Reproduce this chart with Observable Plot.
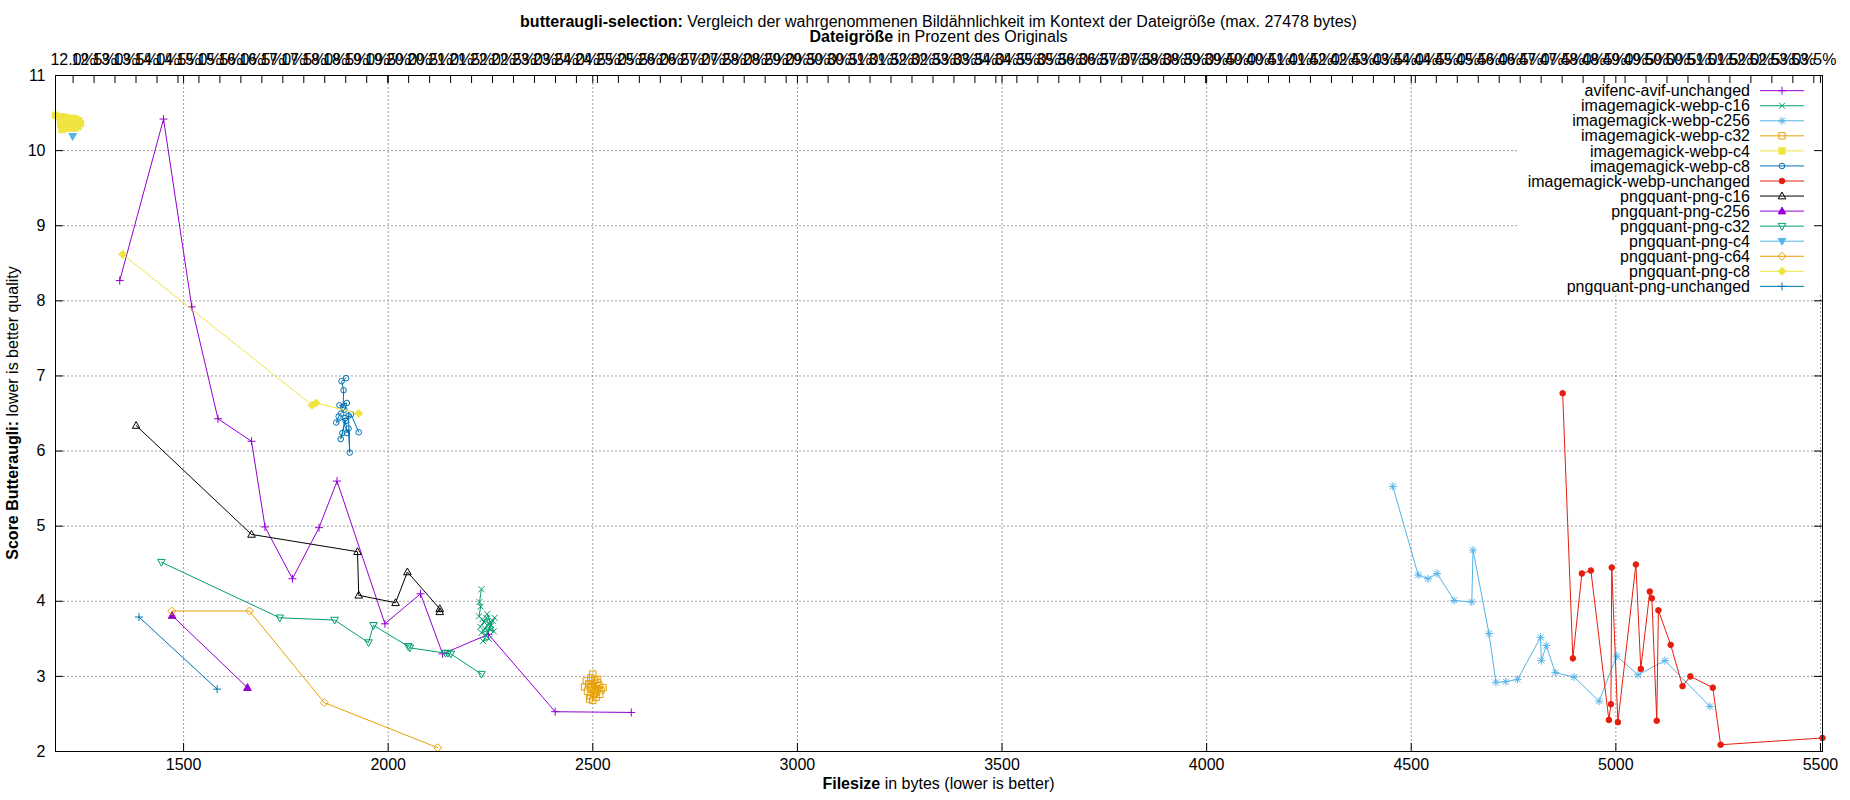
<!DOCTYPE html>
<html><head><meta charset="utf-8">
<script src="https://cdn.jsdelivr.net/npm/d3@7"></script>
<script src="https://cdn.jsdelivr.net/npm/@observablehq/plot@0.6"></script>
<style>
body{margin:0;background:#fff;}
#chart svg{font-family:"Liberation Sans",Arial,sans-serif;}
</style>
</head><body><div id="chart"></div>
<script>
// ---------- tick labels ----------
const xTicks = [1500, 2000, 2500, 3000, 3500, 4000, 4500, 5000, 5500];
const yTicks = [2, 3, 4, 5, 6, 7, 8, 9, 10, 11];
const x2TickPct = d3.range(120, 540, 5).map(d => d / 10); // 12.0% .. 53.5%
const x2BytesPerPct = 102.5;

// ---------- series (filesize in bytes, butteraugli score) ----------
const avifencAvifUnchanged = [[1344,8.27],[1451,10.42],[1520,7.92],[1584,6.43],[1666,6.13],[1699,4.99],[1766,4.30],[1831,4.98],[1875,5.60],[1992,3.70],[2079,4.10],[2133,3.30],[2245,3.56],[2408,2.53],[2594,2.52]];
const imagemagickWebpC16 = [[2228,4.16],[2223,3.99],[2226,3.93],[2222,3.80],[2230,3.76],[2235,3.72],[2225,3.66],[2240,3.78],[2245,3.70],[2250,3.62],[2228,3.58],[2255,3.74],[2260,3.78],[2238,3.55],[2246,3.50],[2232,3.47],[2252,3.68],[2242,3.83],[2258,3.60],[2236,3.64]];
const imagemagickWebpC256 = [[4455,5.53],[4517,4.35],[4541,4.30],[4563,4.37],[4605,4.01],[4648,3.99],[4651,4.68],[4690,3.57],[4707,2.92],[4731,2.93],[4760,2.96],[4816,3.52],[4818,3.21],[4830,3.41],[4852,3.05],[4898,2.99],[4959,2.67],[5002,3.27],[5054,3.02],[5120,3.21],[5230,2.60]];
const imagemagickWebpC32 = [[2500,3.03],[2495,2.98],[2505,2.95],[2490,2.90],[2510,2.92],[2498,2.85],[2515,2.88],[2487,2.80],[2503,2.78],[2520,2.82],[2494,2.74],[2508,2.72],[2525,2.85],[2480,2.86],[2512,2.96],[2500,2.68],[2517,2.76],[2484,2.94],[2506,2.83],[2492,2.70]];
const imagemagickWebpC4 = [[1187,10.47],[1198,10.44],[1205,10.45],[1212,10.44],[1220,10.42],[1228,10.43],[1236,10.42],[1244,10.40],[1248,10.36],[1200,10.35],[1210,10.32],[1218,10.30],[1226,10.31],[1234,10.30],[1242,10.32],[1203,10.28],[1215,10.38],[1230,10.36]];
const imagemagickWebpC8 = [[1897,6.97],[1886,6.93],[1891,6.81],[1890,6.58],[1881,6.61],[1899,6.64],[1893,6.55],[1885,6.50],[1879,6.46],[1873,6.38],[1895,6.44],[1888,6.24],[1884,6.16],[1896,6.40],[1899,6.24],[1903,6.30],[1906,5.98],[1903,6.47],[1909,6.49],[1928,6.25]];
const imagemagickWebpUnchanged = [[4870,6.77],[4895,3.24],[4917,4.37],[4939,4.41],[4983,2.42],[4988,2.63],[4990,4.45],[5005,2.39],[5049,4.49],[5061,3.10],[5083,4.13],[5088,4.04],[5100,2.41],[5104,3.88],[5134,3.42],[5163,2.87],[5182,3.00],[5237,2.85],[5256,2.09],[5505,2.18]];
const pngquantPngC16 = [[1384,6.34],[1666,4.89],[1925,4.66],[1928,4.08],[2018,3.98],[2047,4.39],[2126,3.90],[2126,3.86]];
const pngquantPngC256 = [[1472,3.81],[1656,2.85]];
const pngquantPngC32 = [[1446,4.52],[1735,3.78],[1869,3.75],[1952,3.45],[1964,3.68],[2049,3.40],[2053,3.38],[2140,3.31],[2146,3.31],[2153,3.30],[2228,3.03]];
const pngquantPngC4 = [[1229,10.19]];
const pngquantPngC64 = [[1471,3.87],[1661,3.87],[1844,2.65],[2121,2.05]];
const pngquantPngC8 = [[1351,8.62],[1814,6.61],[1824,6.64],[1928,6.50]];
const pngquantPngUnchanged = [[1391,3.79],[1582,2.83]];

// ---------- marker shapes (gnuplot point types) ----------
const R = s => Math.sqrt(s / Math.PI);
const sym = {
  plus: {draw(c, s){const r=R(s); c.moveTo(-r,0);c.lineTo(r,0);c.moveTo(0,-r);c.lineTo(0,r);}},
  times: {draw(c, s){const r=R(s)*0.75; c.moveTo(-r,-r);c.lineTo(r,r);c.moveTo(-r,r);c.lineTo(r,-r);}},
  asterisk: {draw(c, s){const r=R(s), q=r*0.75; c.moveTo(-r,0);c.lineTo(r,0);c.moveTo(0,-r);c.lineTo(0,r);c.moveTo(-q,-q);c.lineTo(q,q);c.moveTo(-q,q);c.lineTo(q,-q);}},
  square: {draw(c, s){const r=R(s)*0.8; c.rect(-r,-r,2*r,2*r);}},
  circle: {draw(c, s){const r=R(s)*0.7; c.moveTo(r,0); c.arc(0,0,r,0,2*Math.PI); c.closePath();}},
  triUp: {draw(c, s){const r=R(s); c.moveTo(0,-r); c.lineTo(r*0.95,r*0.7); c.lineTo(-r*0.95,r*0.7); c.closePath();}},
  triDown: {draw(c, s){const r=R(s); c.moveTo(0,r); c.lineTo(r*0.95,-r*0.7); c.lineTo(-r*0.95,-r*0.7); c.closePath();}},
  diamond: {draw(c, s){const r=R(s); c.moveTo(0,-r);c.lineTo(r,0);c.lineTo(0,r);c.lineTo(-r,0);c.closePath();}}
};

const C = {purple:"#9400d3", green:"#009e73", sky:"#56b4e9", orange:"#e69f00", yellow:"#f0e442", blue:"#0072b2", red:"#e51e10", black:"#000000"};

const series = [
  {name:"avifenc-avif-unchanged", data:avifencAvifUnchanged, color:C.purple, symbol:sym.plus, filled:false},
  {name:"imagemagick-webp-c16", data:imagemagickWebpC16, color:C.green, symbol:sym.times, filled:false},
  {name:"imagemagick-webp-c256", data:imagemagickWebpC256, color:C.sky, symbol:sym.asterisk, filled:false},
  {name:"imagemagick-webp-c32", data:imagemagickWebpC32, color:C.orange, symbol:sym.square, filled:false},
  {name:"imagemagick-webp-c4", data:imagemagickWebpC4, color:C.yellow, symbol:sym.square, filled:true},
  {name:"imagemagick-webp-c8", data:imagemagickWebpC8, color:C.blue, symbol:sym.circle, filled:false},
  {name:"imagemagick-webp-unchanged", data:imagemagickWebpUnchanged, color:C.red, symbol:sym.circle, filled:true},
  {name:"pngquant-png-c16", data:pngquantPngC16, color:C.black, symbol:sym.triUp, filled:false},
  {name:"pngquant-png-c256", data:pngquantPngC256, color:C.purple, symbol:sym.triUp, filled:true},
  {name:"pngquant-png-c32", data:pngquantPngC32, color:C.green, symbol:sym.triDown, filled:false},
  {name:"pngquant-png-c4", data:pngquantPngC4, color:C.sky, symbol:sym.triDown, filled:true},
  {name:"pngquant-png-c64", data:pngquantPngC64, color:C.orange, symbol:sym.diamond, filled:false},
  {name:"pngquant-png-c8", data:pngquantPngC8, color:C.yellow, symbol:sym.diamond, filled:true},
  {name:"pngquant-png-unchanged", data:pngquantPngUnchanged, color:C.blue, symbol:sym.plus, filled:false}
];

const W = 1850, H = 800, mL = 55, mR = 28, mT = 75, mB = 49;
const innerW = W - mL - mR, innerH = H - mT - mB;
const TICK = 8;
const gridStyle = {stroke:"#a0a0a0", strokeWidth:1, strokeDasharray:"2,2"};

const dataMarks = series.flatMap(s => [
  Plot.line(s.data, {x: d => d[0], y: d => d[1], stroke: s.color, strokeWidth: 1}),
  Plot.dot(s.data, {x: d => d[0], y: d => d[1], r: 4, symbol: s.symbol,
    stroke: s.color, strokeWidth: 1, fill: s.filled ? s.color : "none"})
]);

const x2TickBytes = x2TickPct.map(p => p * x2BytesPerPct);

const chart = Plot.plot({
  width: W, height: H,
  marginLeft: mL, marginRight: mR, marginTop: mT, marginBottom: mB,
  style: {fontFamily: "'Liberation Sans', Arial, sans-serif", fontSize: "16px", background: "white", color: "black", overflow: "visible"},
  x: {domain: [1187, 5505]},
  y: {domain: [2, 11]},
  marks: [
    Plot.ruleX(xTicks, {x: d => d, ...gridStyle}),
    Plot.ruleY(yTicks.filter(d => d > 2 && d < 11), {y: d => d, ...gridStyle}),
    ...dataMarks,
    Plot.axisX(xTicks, {anchor: "bottom", tickSize: 0, tickPadding: 7, label: null, tickFormat: d => String(d)}),
    Plot.axisX(x2TickBytes, {anchor: "top", tickSize: 0, tickPadding: 11, label: null,
      tickFormat: d => (d / x2BytesPerPct).toFixed(1) + "%"}),
    Plot.axisY(yTicks, {anchor: "left", tickSize: 0, tickPadding: 10, label: null, tickFormat: d => String(d)}),
    Plot.ruleX(xTicks, {x: d => d, insetTop: innerH - TICK, stroke: "black"}),
    Plot.ruleX(xTicks, {x: d => d, insetBottom: innerH - TICK, stroke: "black", className: "topticks"}),
    Plot.ruleX(x2TickBytes, {x: d => d, insetBottom: innerH - TICK, stroke: "black", className: "x2ticks"}),
    Plot.ruleY(yTicks, {y: d => d, insetRight: innerW - TICK, stroke: "black"}),
    Plot.ruleY(yTicks, {y: d => d, insetLeft: innerW - TICK, stroke: "black", className: "rightticks"}),
    Plot.frame({stroke: "black", strokeWidth: 1, className: "border"})
  ]
});

document.getElementById("chart").append(chart);
const svg = d3.select(chart);

// titles
const t1 = svg.append("text").attr("x", mL + innerW / 2).attr("y", 27).attr("text-anchor", "middle").attr("font-size", 16).attr("fill", "black");
t1.append("tspan").attr("font-weight", "bold").text("butteraugli-selection:");
t1.append("tspan").text(" Vergleich der wahrgenommenen Bildähnlichkeit im Kontext der Dateigröße (max. 27478 bytes)");
const t2 = svg.append("text").attr("x", mL + innerW / 2).attr("y", 42).attr("text-anchor", "middle").attr("font-size", 16).attr("fill", "black");
t2.append("tspan").attr("font-weight", "bold").text("Dateigröße");
t2.append("tspan").text(" in Prozent des Originals");
const xl = svg.append("text").attr("x", mL + innerW / 2).attr("y", 789).attr("text-anchor", "middle").attr("font-size", 16).attr("fill", "black");
xl.append("tspan").attr("font-weight", "bold").text("Filesize");
xl.append("tspan").text(" in bytes (lower is better)");
const yl = svg.append("text").attr("transform", `translate(17.5,${mT + innerH / 2}) rotate(-90)`).attr("text-anchor", "middle").attr("font-size", 16).attr("fill", "black");
yl.append("tspan").attr("font-weight", "bold").text("Score Butteraugli:");
yl.append("tspan").text(" lower is better quality");

// legend (opaque key box)
const lg = svg.append("g");
lg.append("rect").attr("x", 1517).attr("y", mT + 0.5).attr("width", W - mR - 1517 - 0.5).attr("height", 219).attr("fill", "white");
series.forEach((s, i) => {
  const y = 90.7 + 15.05 * i;
  lg.append("text").attr("x", 1750).attr("y", y).attr("dy", "0.35em").attr("text-anchor", "end").attr("font-size", 16).attr("fill", "black").text(s.name);
  lg.append("line").attr("x1", 1760).attr("x2", 1804).attr("y1", y).attr("y2", y).attr("stroke", s.color).attr("stroke-width", 1);
  lg.append("path").attr("transform", `translate(1782,${y})`).attr("d", d3.symbol(s.symbol, 16 * Math.PI)())
    .attr("stroke", s.color).attr("stroke-width", 1).attr("fill", s.filled ? s.color : "none");
});
// ticks and border stay above the key box
["rightticks", "topticks", "x2ticks", "border"].forEach(c => svg.selectAll("." + c).each(function(){ this.parentNode.appendChild(this); }));
</script>
</body></html>
